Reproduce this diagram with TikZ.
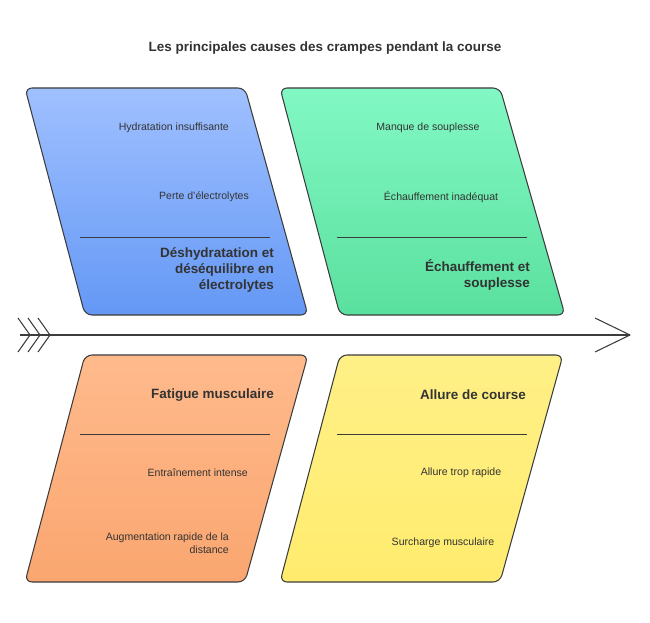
\documentclass[tikz,border=0pt]{standalone}
\usepackage{fontspec}
\setmainfont{Liberation Sans}
\usetikzlibrary{positioning}
\definecolor{edgegray}{HTML}{3C3C3C}
\definecolor{txtgray}{HTML}{333333}
\tikzset{
  cause/.style={draw=edgegray, line width=0.9pt, rounded corners=6pt},
  item/.style={font=\fontsize{9}{11}\selectfont, text=txtgray, align=right},
  head/.style={font=\bfseries\fontsize{11.5}{14}\selectfont, text=txtgray, align=right},
  sep/.style={draw=edgegray, line width=0.8pt}
}
\begin{document}
\begin{tikzpicture}[x=0.03cm,y=-0.03cm]
        \useasboundingbox (0,0) rectangle (650,623);
        \node (title) [font=\bfseries\fontsize{11.5}{14}\selectfont, text=txtgray] at (325,48) {Les principales causes des crampes pendant la course};
        % four boxes
        \draw[cause, top color={rgb,255:red,160;green,192;blue,255}, bottom color={rgb,255:red,100;green,152;blue,245}]
                (25,88) -- (245,88) -- (308,315) -- (85,315) -- cycle;
        \draw[cause, top color={rgb,255:red,130;green,248;blue,196}, bottom color={rgb,255:red,90;green,224;blue,158}]
                (280,88) -- (500,88) -- (565,315) -- (340,315) -- cycle;
        \draw[cause, top color={rgb,255:red,255;green,186;blue,140}, bottom color={rgb,255:red,250;green,166;blue,112}]
                (85,355) -- (308,355) -- (245,582) -- (25,582) -- cycle;
        \draw[cause, top color={rgb,255:red,255;green,240;blue,135}, bottom color={rgb,255:red,255;green,236;blue,110}]
                (340,355) -- (563,355) -- (500,582) -- (280,582) -- cycle;
        % separators
        \draw[sep] (80,237) -- (270,237);
        \draw[sep] (337,237) -- (527,237);
        \draw[sep] (80,434) -- (270,434);
        \draw[sep] (337,434) -- (527,434);
        % texts
        \node (t1a) [item, anchor=east] at (233,128) {Hydratation insuffisante};
        \node (t1b) [item, anchor=east] at (253,197) {Perte d'électrolytes};
        \node (t1h) [head, anchor=east] at (278,270) {Déshydratation et\\déséquilibre en\\électrolytes};
        \node (t2a) [item] at (428,128) {Manque de souplesse};
        \node (t2b) [item] at (441,197) {Échauffement inadéquat};
        \node (t2h) [head, anchor=east] at (534,275) {Échauffement et\\souplesse};
        \node (t3h) [head, anchor=east] at (278,395) {Fatigue musculaire};
        \node (t3a) [item, anchor=east] at (252,473) {Entraînement intense};
        \node (t3b) [item, anchor=east] at (233,543) {Augmentation rapide de la\\distance};
        \node (t4h) [head] at (473,395) {Allure de course};
        \node (t4a) [item] at (461,473) {Allure trop rapide};
        \node (t4b) [item] at (443,543) {Surcharge musculaire};
        % spine
        \coordinate (tail) at (20,335);
        \coordinate (head) at (630,335);
        \draw[edgegray, line width=0.9pt] (tail) -- (head);
        \draw[edgegray, line width=0.9pt, line join=round] (595,318) -- (head) -- (595,352);
        \foreach \dx in {0,10,20}
                \draw[edgegray, line width=0.9pt, line join=round] (18+\dx,318) -- (30+\dx,335) -- (18+\dx,352);
\end{tikzpicture}
\end{document}
